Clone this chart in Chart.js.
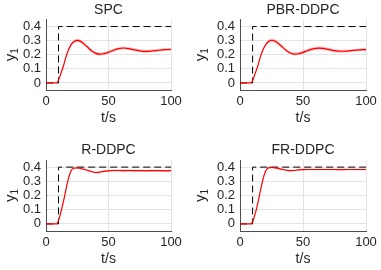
<!DOCTYPE html>
<html>
<head>
<meta charset="utf-8">
<script src="https://cdn.jsdelivr.net/npm/chart.js@4.4.0/dist/chart.umd.min.js"></script>
<style>
  html, body { margin: 0; padding: 0; background: #fff; }
  body { width: 381px; height: 270px; position: relative; overflow: hidden; }
  canvas { position: absolute; }
</style>
</head>
<body>
<canvas id="spc" width="190" height="135" style="left:0;top:0"></canvas>
<canvas id="pbr" width="191" height="135" style="left:190px;top:0"></canvas>
<canvas id="rddpc" width="190" height="135" style="left:0;top:135px"></canvas>
<canvas id="frddpc" width="191" height="135" style="left:190px;top:135px"></canvas>
<script>
// data
const time = [0, 8.5, 10, 12, 14, 16, 18, 20, 22, 25, 28, 31, 34, 37, 40, 43, 46, 50, 54, 58, 62, 66, 70, 75, 80, 85, 90, 95, 100];

const spcMean = [0, 0, 0.02, 0.07, 0.122, 0.185, 0.235, 0.27, 0.29, 0.302, 0.293, 0.272, 0.248, 0.225, 0.21, 0.204, 0.207, 0.218, 0.232, 0.243, 0.248, 0.244, 0.236, 0.228, 0.224, 0.227, 0.232, 0.236, 0.238];
const spcSpread = [0, 0, 0.003, 0.004, 0.005, 0.007, 0.009, 0.01, 0.011, 0.012, 0.012, 0.011, 0.011, 0.011, 0.011, 0.011, 0.011, 0.011, 0.011, 0.011, 0.011, 0.011, 0.011, 0.011, 0.011, 0.01, 0.01, 0.01, 0.01];

const pbrMean = [0, 0, 0.018, 0.066, 0.118, 0.18, 0.23, 0.266, 0.289, 0.303, 0.296, 0.276, 0.252, 0.228, 0.212, 0.205, 0.207, 0.217, 0.231, 0.242, 0.247, 0.245, 0.238, 0.229, 0.225, 0.226, 0.231, 0.235, 0.237];
const pbrSpread = [0, 0, 0.003, 0.004, 0.005, 0.007, 0.009, 0.01, 0.011, 0.012, 0.012, 0.011, 0.011, 0.011, 0.011, 0.011, 0.011, 0.011, 0.011, 0.011, 0.011, 0.011, 0.011, 0.011, 0.011, 0.01, 0.01, 0.01, 0.01];

const rMean = [0, 0, 0.025, 0.085, 0.16, 0.243, 0.32, 0.373, 0.392, 0.395, 0.39, 0.383, 0.375, 0.367, 0.362, 0.364, 0.37, 0.374, 0.376, 0.376, 0.375, 0.376, 0.375, 0.375, 0.374, 0.375, 0.375, 0.374, 0.375];
const rSpread = [0, 0, 0.002, 0.003, 0.004, 0.005, 0.006, 0.006, 0.007, 0.007, 0.007, 0.007, 0.007, 0.007, 0.007, 0.007, 0.007, 0.007, 0.007, 0.007, 0.007, 0.007, 0.007, 0.007, 0.007, 0.007, 0.007, 0.007, 0.007];

const frMean = [0, 0, 0.015, 0.07, 0.14, 0.225, 0.305, 0.365, 0.392, 0.398, 0.394, 0.389, 0.383, 0.378, 0.375, 0.376, 0.38, 0.382, 0.383, 0.383, 0.383, 0.383, 0.383, 0.383, 0.382, 0.383, 0.383, 0.383, 0.383];
const frSpread = [0, 0, 0.002, 0.003, 0.004, 0.005, 0.006, 0.006, 0.006, 0.006, 0.006, 0.006, 0.006, 0.006, 0.006, 0.006, 0.006, 0.006, 0.006, 0.006, 0.006, 0.006, 0.006, 0.006, 0.006, 0.006, 0.006, 0.006, 0.006];

// reference step
const refTime = [0, 10, 10, 100];
const refValue = [0, 0, 0.4, 0.4];

const xTicks = [0, 50, 100];
const yTicks = [0, 0.1, 0.2, 0.3, 0.4];

const FONT = '"Liberation Sans", Arial, Helvetica, sans-serif';
const TEXT = "#262626";

// title + axis labels (y with subscript 1), MATLAB style
const panelText = {
  id: "panelText",
  afterDraw(chart, args, opts) {
    const { ctx, chartArea } = chart;
    const cx = (chartArea.left + chartArea.right) / 2;
    const cy = (chartArea.top + chartArea.bottom) / 2;
    ctx.save();
    ctx.fillStyle = TEXT;
    ctx.textAlign = "center";
    ctx.textBaseline = "middle";
    ctx.font = `14px ${FONT}`;
    ctx.fillText(opts.title, cx, chartArea.top - 9.5);
    ctx.fillText("t/s", cx, chartArea.bottom + 28.5);

    ctx.translate(12, cy);
    ctx.rotate(-Math.PI / 2);
    ctx.textAlign = "left";
    ctx.font = `15px ${FONT}`;
    const wy = ctx.measureText("y").width;
    ctx.font = `10px ${FONT}`;
    const w1 = ctx.measureText("1").width;
    const x0 = -(wy + w1) / 2;
    ctx.font = `15px ${FONT}`;
    ctx.fillText("y", x0, -1);
    ctx.font = `10px ${FONT}`;
    ctx.fillText("1", x0 + wy, 3.5);
    ctx.restore();
  },
};

function pts(xs, ys) {
  return xs.map((x, i) => ({ x: x, y: ys[i] }));
}

function makePanel(id, title, mean, spread, box) {
  const canvas = document.getElementById(id);
  const W = canvas.width, H = canvas.height;
  const upper = mean.map((v, i) => v + spread[i]);
  const lower = mean.map((v, i) => v - spread[i]);

  new Chart(canvas.getContext("2d"), {
    type: "line",
    data: {
      datasets: [
        {
          data: pts(time, mean),
          borderColor: "#ff0000",
          borderWidth: 1.2,
          pointRadius: 0,
          cubicInterpolationMode: "monotone",
          fill: false,
        },
        {
          data: pts(refTime, refValue),
          borderColor: "#000000",
          borderWidth: 1,
          borderDash: [7, 4],
          pointRadius: 0,
          tension: 0,
          fill: false,
        },
        {
          data: pts(time, lower),
          borderWidth: 0,
          borderColor: "rgba(0,0,0,0)",
          pointRadius: 0,
          cubicInterpolationMode: "monotone",
          fill: false,
        },
        {
          data: pts(time, upper),
          borderWidth: 0,
          borderColor: "rgba(0,0,0,0)",
          backgroundColor: "rgba(255,0,0,0.25)",
          pointRadius: 0,
          cubicInterpolationMode: "monotone",
          fill: "-1",
        },
      ],
    },
    options: {
      responsive: false,
      animation: false,
      layout: {
        padding: { left: 0, top: box.top, right: W - box.right, bottom: 0 },
      },
      plugins: {
        legend: { display: false },
        tooltip: { enabled: false },
        panelText: { title: title },
      },
      scales: {
        x: {
          type: "linear",
          min: 0,
          max: 100,
          afterBuildTicks: (s) => { s.ticks = xTicks.map((v) => ({ value: v })); },
          afterFit: (s) => { s.height = H - box.bottom; },
          grid: { color: "#e3e3e3", drawTicks: false },
          border: { color: "#4d4d4d", width: 1 },
          ticks: { autoSkip: false, padding: 4, maxRotation: 0, color: TEXT, font: { family: FONT, size: 13 } },
        },
        y: {
          type: "linear",
          min: -0.05,
          max: 0.45,
          afterBuildTicks: (s) => { s.ticks = yTicks.map((v) => ({ value: v })); },
          afterFit: (s) => { s.width = box.left; },
          grid: { color: "#e3e3e3", drawTicks: false },
          border: { color: "#4d4d4d", width: 1 },
          ticks: { autoSkip: false, padding: 5, color: TEXT, font: { family: FONT, size: 13 }, callback: (v) => String(v) },
        },
      },
    },
    plugins: [panelText],
  });
}

makePanel("spc", "SPC", spcMean, spcSpread, { left: 46, right: 171, top: 19.5, bottom: 90 });
makePanel("pbr", "PBR-DDPC", pbrMean, pbrSpread, { left: 50, right: 176, top: 19.5, bottom: 90 });
makePanel("rddpc", "R-DDPC", rMean, rSpread, { left: 46, right: 171, top: 25, bottom: 96 });
makePanel("frddpc", "FR-DDPC", frMean, frSpread, { left: 50, right: 176, top: 25, bottom: 96 });
</script>
</body>
</html>
